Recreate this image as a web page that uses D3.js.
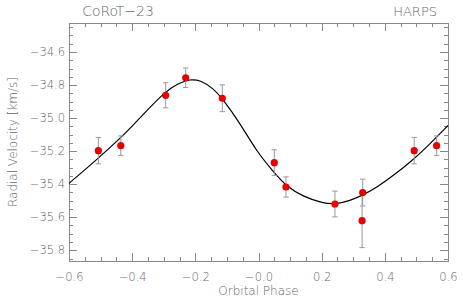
<!DOCTYPE html>
<html>
<head>
<meta charset="utf-8">
<style>
	body{ margin:0; background:#fff; }
	svg{ display:block; }
	.axis path, .axis line{ stroke:#888; stroke-width:1px; shape-rendering:crispEdges; }
	.axis text{ fill:#666; font-family:"DejaVu Sans", sans-serif; font-weight:200; font-size:11.5px; }
	.lbl{ fill:#666; font-family:"DejaVu Sans", sans-serif; font-weight:200; }
</style>
<script src="https://cdn.jsdelivr.net/npm/d3@7"></script>
</head>
<body>
<div id="chart"></div>
<script>
// HARPS radial velocities vs orbital phase
var phase = [-0.507, -0.436, -0.294, -0.2305, -0.1146, 0.050, 0.087, 0.242, 0.330, 0.328, 0.493, 0.564];
var rv    = [-35.197, -35.167, -34.862, -34.756, -34.880, -35.270, -35.417, -35.520, -35.451, -35.621, -35.197, -35.167];
var err   = [0.080, 0.059, 0.076, 0.059, 0.081, 0.078, 0.061, 0.078, 0.081, 0.163, 0.080, 0.059];

// orbital fit
var modelPhase = [-0.6, -0.507, -0.438, -0.401, -0.349, -0.296, -0.254, -0.217, -0.185, -0.143, -0.111, -0.0585, -0.0056,
	0.047, 0.089, 0.142, 0.205, 0.242, 0.290, 0.332, 0.374, 0.427, 0.480, 0.533, 0.6];
var modelRv = [-35.395, -35.243, -35.122, -35.052, -34.945, -34.842, -34.789, -34.765, -34.769, -34.820, -34.890, -35.031, -35.203,
	-35.324, -35.415, -35.476, -35.516, -35.522, -35.500, -35.465, -35.420, -35.348, -35.267, -35.176, -35.045];

var xTicks = [-0.6, -0.4, -0.2, 0.0, 0.2, 0.4, 0.6];
var xTickLabels = ['\u22120.6', '\u22120.4', '\u22120.2', '\u22120.0', '0.2', '0.4', '0.6'];
var yTicks = [-35.8, -35.6, -35.4, -35.2, -35.0, -34.8, -34.6];

var width = 463, height = 301;
var margin = {left:69, right:15, top:23, bottom:40};

var svg = d3.select('#chart').append('svg')
	.attr('width', width).attr('height', height);

var x = d3.scaleLinear().domain([-0.6, 0.6]).range([margin.left, width - margin.right]);
var y = d3.scaleLinear().domain([-35.865, -34.4245]).range([height - margin.bottom, margin.top]);

var xMinor = d3.range(-0.6, 0.6001, 0.05).map(function(d){ return Math.round(d*100)/100; });
var yMinor = d3.range(-35.85, -34.42, 0.05).map(function(d){ return Math.round(d*100)/100; });

function fmtY(d){ return '\u2212' + Math.abs(d).toFixed(1); }

// minor ticks on all four sides
svg.append('g').attr('class','axis').attr('transform','translate(0,' + (height - margin.bottom) + ')')
	.call(d3.axisBottom(x).tickValues(xMinor).tickSize(-4).tickFormat(''));
svg.append('g').attr('class','axis').attr('transform','translate(0,' + margin.top + ')')
	.call(d3.axisTop(x).tickValues(xMinor).tickSize(-4).tickFormat(''));
svg.append('g').attr('class','axis').attr('transform','translate(' + margin.left + ',0)')
	.call(d3.axisLeft(y).tickValues(yMinor).tickSize(-4).tickFormat(''));
svg.append('g').attr('class','axis').attr('transform','translate(' + (width - margin.right) + ',0)')
	.call(d3.axisRight(y).tickValues(yMinor).tickSize(-4).tickFormat(''));

// major ticks
svg.append('g').attr('class','axis').attr('transform','translate(0,' + (height - margin.bottom) + ')')
	.call(d3.axisBottom(x).tickValues(xTicks).tickSize(-8).tickPadding(12)
		.tickFormat(function(d, i){ return xTickLabels[i]; }));
svg.append('g').attr('class','axis').attr('transform','translate(0,' + margin.top + ')')
	.call(d3.axisTop(x).tickValues(xTicks).tickSize(-8).tickFormat(''));
svg.append('g').attr('class','axis').attr('transform','translate(' + margin.left + ',0)')
	.call(d3.axisLeft(y).tickValues(yTicks).tickSize(-8).tickPadding(4).tickFormat(fmtY));
svg.append('g').attr('class','axis').attr('transform','translate(' + (width - margin.right) + ',0)')
	.call(d3.axisRight(y).tickValues(yTicks).tickSize(-8).tickFormat(''));

// model curve
var model = modelPhase.map(function(p, i){ return [p, modelRv[i]]; });
svg.append('path')
	.datum(model)
	.attr('fill', 'none')
	.attr('stroke', '#000')
	.attr('stroke-width', 1.2)
	.attr('d', d3.line().curve(d3.curveBasis)
		.x(function(d){ return x(d[0]); })
		.y(function(d){ return y(d[1]); }));

// error bars
var pts = phase.map(function(p, i){ return {p:p, v:rv[i], e:err[i]}; });
var eb = svg.append('g').attr('stroke', '#999').attr('stroke-width', 1);
eb.selectAll('line.bar').data(pts).enter().append('line')
	.attr('x1', function(d){ return x(d.p); }).attr('x2', function(d){ return x(d.p); })
	.attr('y1', function(d){ return y(d.v - d.e); }).attr('y2', function(d){ return y(d.v + d.e); });
eb.selectAll('line.top').data(pts).enter().append('line')
	.attr('x1', function(d){ return x(d.p) - 2.7; }).attr('x2', function(d){ return x(d.p) + 2.7; })
	.attr('y1', function(d){ return y(d.v + d.e); }).attr('y2', function(d){ return y(d.v + d.e); });
eb.selectAll('line.bot').data(pts).enter().append('line')
	.attr('x1', function(d){ return x(d.p) - 2.7; }).attr('x2', function(d){ return x(d.p) + 2.7; })
	.attr('y1', function(d){ return y(d.v - d.e); }).attr('y2', function(d){ return y(d.v - d.e); });

// points
svg.selectAll('.dot').data(pts).enter().append('circle')
	.attr('class', 'dot')
	.attr('cx', function(d){ return x(d.p); })
	.attr('cy', function(d){ return y(d.v); })
	.attr('r', 3.6)
	.attr('fill', '#e60000');

// labels
svg.append('text').attr('class','lbl').attr('x', 118).attr('y', 16)
	.attr('text-anchor','middle').style('font-size','14px').text('CoRoT\u221223');
svg.append('text').attr('class','lbl').attr('x', 437).attr('y', 16)
	.attr('text-anchor','end').style('font-size','13px').text('HARPS');
svg.append('text').attr('class','lbl').attr('x', (margin.left + width - margin.right)/2).attr('y', 295)
	.attr('text-anchor','middle').style('font-size','12px').text('Orbital Phase');
svg.append('text').attr('class','lbl')
	.attr('transform','translate(17,' + ((margin.top + height - margin.bottom)/2) + ') rotate(-90)')
	.attr('text-anchor','middle').style('font-size','12px').text('Radial Velocity [km/s]');
</script>
</body>
</html>
